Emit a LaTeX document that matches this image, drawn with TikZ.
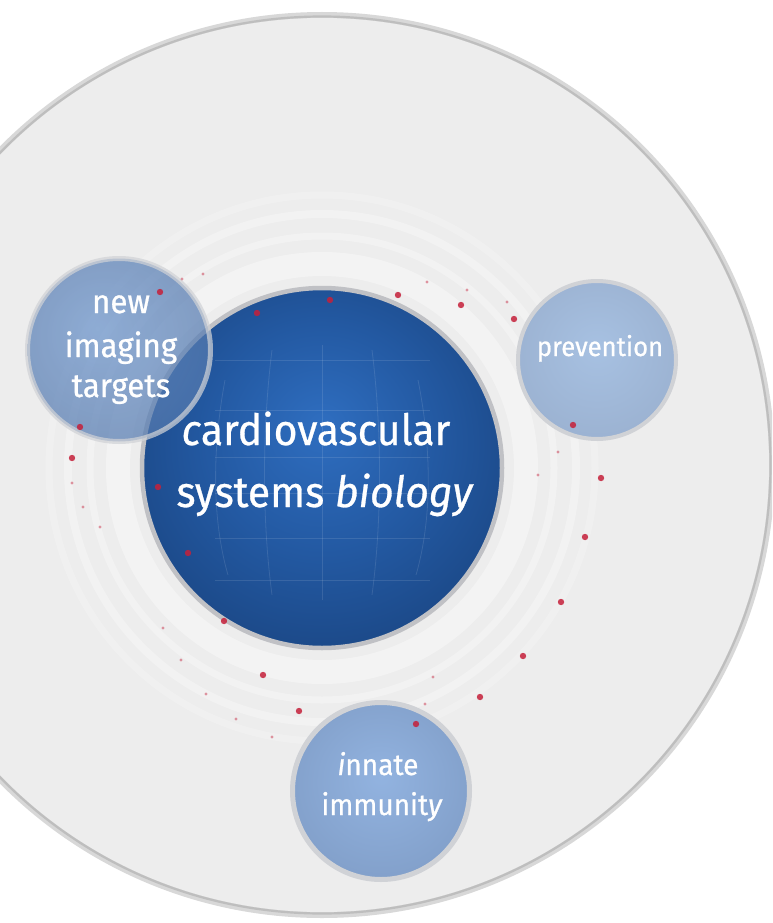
\documentclass[tikz,border=0pt]{standalone}
\usepackage{fontspec}
\setmainfont{Fira Sans}[FakeStretch=0.95, FakeBold=0.7]
\definecolor{bgin}{HTML}{EDEDED}
\definecolor{bgout}{HTML}{E5E5E5}
\definecolor{rimout}{HTML}{D8D8D8}
\definecolor{rimin}{HTML}{BEBEBE}
\definecolor{corein}{HTML}{2F6EC0}
\definecolor{coremid}{HTML}{2359A2}
\definecolor{coreout}{HTML}{173F78}
\definecolor{coreedge}{HTML}{10305F}
\definecolor{nitin}{HTML}{6A93CB}
\definecolor{nitout}{HTML}{45679A}
\definecolor{previn}{HTML}{A7C1E2}
\definecolor{prevout}{HTML}{92A6C4}
\definecolor{innin}{HTML}{92B3E0}
\definecolor{innout}{HTML}{7590B8}
\definecolor{ringgray}{HTML}{D0D2D6}
\definecolor{dotred}{HTML}{C5203A}
\pgfdeclareradialshading{bgshade}{\pgfpoint{0bp}{0bp}}{color(0bp)=(bgin); color(25bp)=(bgin); color(50bp)=(bgout)}
\pgfdeclareradialshading{coreshade}{\pgfpoint{0bp}{6bp}}{color(0bp)=(corein); color(16bp)=(coremid); color(36bp)=(coreout); color(50bp)=(coreedge)}
\pgfdeclareradialshading{nitshade}{\pgfpoint{-6bp}{6bp}}{color(0bp)=(nitin); color(50bp)=(nitout)}
\pgfdeclareradialshading{prevshade}{\pgfpoint{0bp}{4bp}}{color(0bp)=(previn); color(50bp)=(prevout)}
\pgfdeclareradialshading{innshade}{\pgfpoint{0bp}{4bp}}{color(0bp)=(innin); color(50bp)=(innout)}
\tikzset{
  bubble/.style={circle, inner sep=0pt, draw=ringgray},
  lbl/.style={text=white, inner sep=0pt, anchor=base},
  bigdot/.style={fill=dotred, opacity=0.85},
  smalldot/.style={fill=dotred, opacity=0.45},
  gridline/.style={white, opacity=0.11, line width=0.8},
}
\begin{document}
\begin{tikzpicture}[x=1pt,y=-1pt]
\useasboundingbox (0,0) rectangle (772,923);
\clip (0,0) rectangle (772,923);
\fill[white] (0,0) rectangle (772,923);
% outer disc
\fill[rimout] (322,465) circle (453);
\shade[shading=bgshade] (322,465) circle (447);
\draw[rimin, line width=2.2] (322,465) circle (448.5);
% ripples
\draw[white, opacity=0.35, line width=24] (322,468) circle (204);
\draw[white, opacity=0.3, line width=7] (322,468) circle (232);
\draw[white, opacity=0.28, line width=8] (322,468) circle (254);
\draw[white, opacity=0.22, line width=7] (322,468) circle (273);
% core
\node[bubble, draw=ringgray!80!gray, line width=4.5, minimum size=360, shading=coreshade] (core) at (322,468) {};
\begin{scope}
\clip (322,468) circle (170);
\draw[gridline] (322,345) -- (322,600);
\draw[gridline] (272,350) .. controls (262,430) and (262,520) .. (272,595);
\draw[gridline] (372,350) .. controls (382,430) and (382,520) .. (372,595);
\draw[gridline] (225,380) .. controls (212,450) and (212,520) .. (228,575);
\draw[gridline] (418,380) .. controls (432,450) and (432,520) .. (416,575);
\foreach \yy in {360,410,457,493,538,580}
  \draw[gridline] (215,\yy) -- (430,\yy);
\end{scope}
% satellites
\node[bubble, line width=5, minimum size=183, shading=nitshade, opacity=0.72] (nit) at (119,350) {};
\node[bubble, line width=4, minimum size=158, shading=prevshade] (prev) at (597,360) {};
\node[bubble, line width=5, minimum size=177, shading=innshade] (inn) at (381,791) {};
% dots
\foreach \px/\py in {257/313,330/300,398/295,461/305,514/319,160/292,80/427,72/458,158/487,188/553,224/621,573/425,601/478,585/537,561/602,263/675,299/711,523/656,480/697,416/724}
  \fill[bigdot] (\px,\py) circle (3.2);
\foreach \px/\py in {182/279,203/274,72/483,83/507,100/527,427/282,467/290,507/302,558/452,538/475,425/704,433/677,206/694,181/660,236/719,272/737,163/628}
  \fill[smalldot] (\px,\py) circle (1.7);
% labels
\node[lbl, font=\fontsize{33}{38}\selectfont] (t1) at (121,313) {new};
\node[lbl, font=\fontsize{33}{38}\selectfont] (t2) at (121,357) {imaging};
\node[lbl, font=\fontsize{33}{38}\selectfont] (t3) at (121,397) {targets};
\node[lbl, font=\fontsize{43}{50}\selectfont] (c1) at (316,445) {\textit{c}ardiovascular};
\node[lbl, font=\fontsize{43}{50}\selectfont] (c2) at (325,507) {systems \textit{biology}};
\node[lbl, font=\fontsize{27}{33}\selectfont] (p1) at (600,356) {prevention};
\node[lbl, font=\fontsize{29.5}{35}\selectfont] (i1) at (378,775) {\textit{i}nnate};
\node[lbl, font=\fontsize{29.5}{35}\selectfont] (i2) at (382,815) {immunit\textit{y}};
\end{tikzpicture}
\end{document}
